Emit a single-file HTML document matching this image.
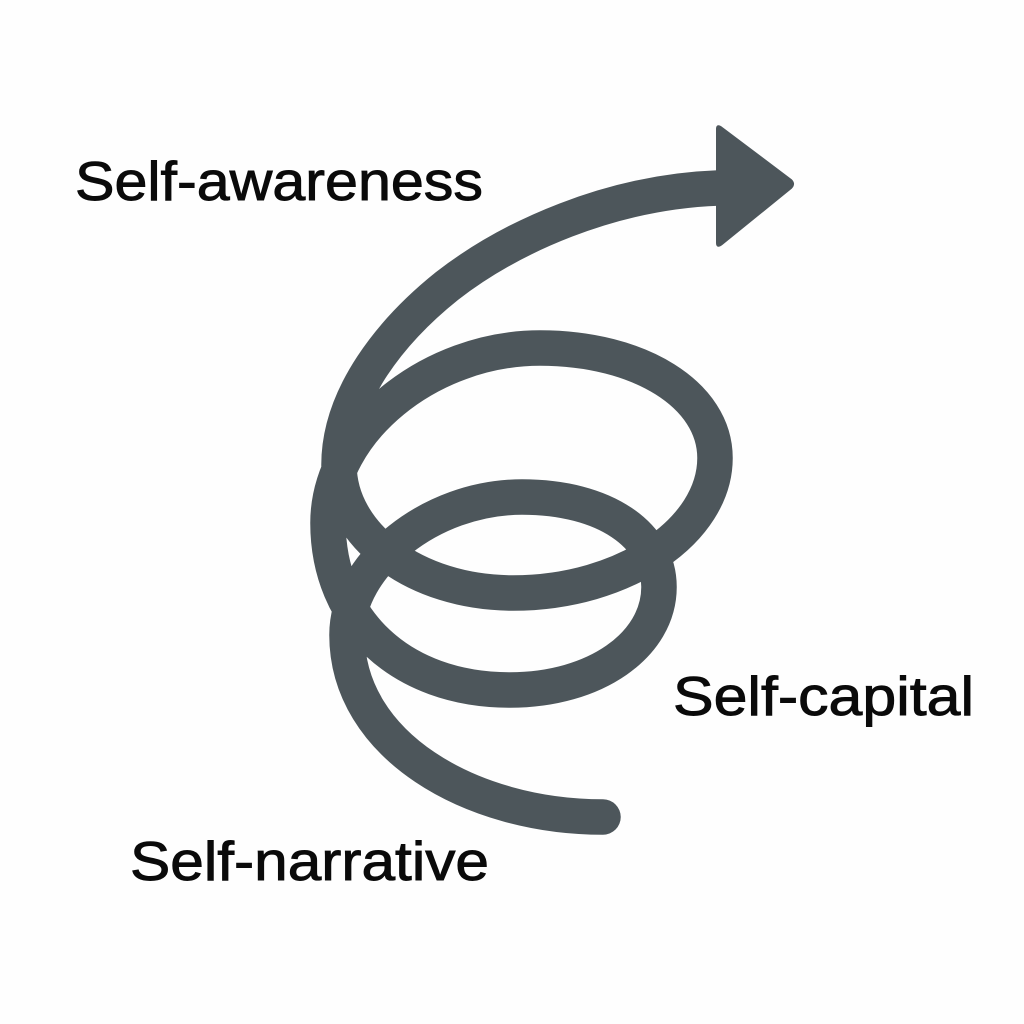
<!DOCTYPE html>
<html><head><meta charset="utf-8"><style>
html,body{margin:0;padding:0;background:#fff;width:1024px;height:1024px;overflow:hidden}
svg{display:block}
text{font-family:"Liberation Sans",sans-serif;font-size:55px;fill:#0a0a0a;stroke:#0a0a0a;stroke-width:.9px}
</style></head><body>
<svg width="1024" height="1024" viewBox="0 0 1024 1024">
<rect width="1024" height="1024" fill="#fefefe"/>
<g fill="none" stroke="#4d565b" stroke-width="35.5" stroke-linecap="round">
<path d="M603 817C470 817 347 745 347 635C347 565 430 497 522 497C605 497 659 535 659 587C659 645 595 690 510 690C400 690 328 620 328 523C328 430 430 348 540 348C640 348 715 395 715 458C715 530 625 593 513 593C415 593 339 535 339 465C339 395 392 330 447 286C510 237 610 192 718 188"/>
</g>
<path d="M717 129Q717 124 722 128L791 180Q795 184 791 188L722 244Q717 248 717 243Z" fill="#4d565b" stroke="#4d565b" stroke-width="2"/>
<text x="75" y="200" textLength="408" lengthAdjust="spacingAndGlyphs">Self-awareness</text>
<text x="673" y="715" textLength="301" lengthAdjust="spacingAndGlyphs">Self-capital</text>
<text x="130" y="880" textLength="359" lengthAdjust="spacingAndGlyphs">Self-narrative</text>
</svg>
</body></html>
